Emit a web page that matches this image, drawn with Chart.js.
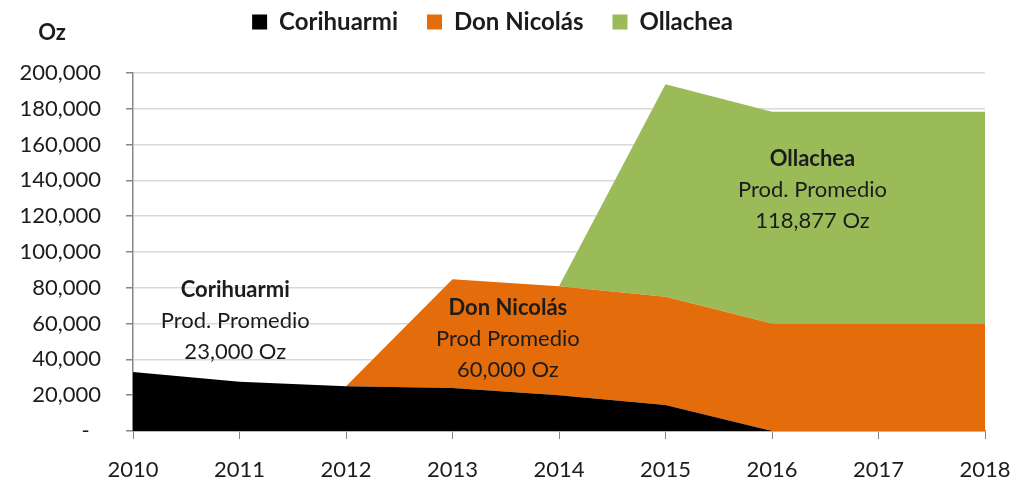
<!DOCTYPE html>
<html>
<head>
<meta charset="utf-8">
<script src="https://cdn.jsdelivr.net/npm/chart.js@4.4.1/dist/chart.umd.min.js"></script>
<style>
  html, body { margin: 0; padding: 0; background: #fff; }
  #wrap { width: 1031px; height: 496px; }
</style>
</head>
<body>
<div id="wrap"><canvas id="c" width="1031" height="496"></canvas></div>
<script>
// valores (onzas)
const ANIOS = ['2010', '2011', '2012', '2013', '2014', '2015', '2016', '2017', '2018'];
const CORIHUARMI = [33000, 27500, 25000, 24000, 20000, 14500, 0, 0, 0];
const DON_NICOLAS = [0, 0, 0, 60800, 60800, 60500, 60000, 60000, 60000];
const OLLACHEA = [0, 0, 0, 0, 0, 118700, 118400, 118400, 118400];
const Y_TICKS = [0, 20000, 40000, 60000, 80000, 100000, 120000, 140000, 160000, 180000, 200000];

// textos dentro del area (x = indice de anio, y = onzas)
const NOTAS = [
  { x: 0.96, y: 78800, lineas: ['Corihuarmi', 'Prod. Promedio', '23,000 Oz'] },
  { x: 3.52, y: 68700, lineas: ['Don Nicolás', 'Prod Promedio', '60,000 Oz'] },
  { x: 6.38, y: 152000, lineas: ['Ollachea', 'Prod. Promedio', '118,877 Oz'] }
];

const FUENTE = 'Lato, "Open Sans", sans-serif';
const TXT = '#1c1c1c';

const notasPlugin = {
  id: 'notas',
  afterDatasetsDraw(chart) {
    const { ctx, scales: { x, y }, chartArea } = chart;
    ctx.save();
    ctx.textAlign = 'center';
    ctx.textBaseline = 'middle';
    ctx.fillStyle = TXT;
    NOTAS.forEach(n => {
      const px = x.getPixelForValue(n.x), py = y.getPixelForValue(n.y);
      n.lineas.forEach((t, i) => {
        ctx.font = (i === 0 ? 'bold ' : '') + '22px ' + FUENTE;
        ctx.fillText(t, px, py + i * 31);
      });
    });
    // titulo del eje
    ctx.font = 'bold 22px ' + FUENTE;
    ctx.fillText('Oz', chartArea.left - 81, chartArea.top - 40);
    ctx.restore();
  }
};

const legendaAltura = {
  id: 'legendaAltura',
  beforeInit(chart) {
    const fit = chart.legend.fit;
    chart.legend.fit = function () { fit.call(this); this.height = 92; };
  }
};

new Chart(document.getElementById('c'), {
  type: 'line',
  data: {
    labels: ANIOS,
    datasets: [
      { label: 'Corihuarmi', data: CORIHUARMI, backgroundColor: '#000000', fill: 'origin' },
      { label: 'Don Nicolás', data: DON_NICOLAS, backgroundColor: '#E46C0A', fill: '-1' },
      { label: 'Ollachea', data: OLLACHEA, backgroundColor: '#9BBB59', fill: '-1' }
    ].map(d => Object.assign(d, { borderWidth: 0, pointRadius: 0, tension: 0, borderColor: d.backgroundColor }))
  },
  options: {
    responsive: false,
    animation: false,
    layout: { padding: { left: 0, right: 46, top: -19, bottom: 0 } },
    plugins: {
      tooltip: { enabled: false },
      legend: {
        position: 'top',
        labels: {
          boxWidth: 15, boxHeight: 15, padding: 29, color: TXT,
          font: { family: FUENTE, size: 24, weight: 'bold' }
        }
      }
    },
    scales: {
      x: {
        offset: false,
        grid: { drawOnChartArea: false, tickLength: 8, tickColor: '#868686' },
        border: { color: '#868686', width: 1.5 },
        ticks: { color: TXT, padding: 18, maxRotation: 0, font: { family: FUENTE, size: 22 } },
        afterFit(s) { s.height = 65; }
      },
      y: {
        stacked: true,
        min: 0, max: 200000,
        afterBuildTicks(s) { s.ticks = Y_TICKS.map(v => ({ value: v })); },
        grid: { color: '#D9D9D9', lineWidth: 1.5, tickLength: 7, tickColor: '#868686' },
        border: { color: '#868686', width: 1.5 },
        ticks: {
          color: TXT, padding: 25, font: { family: FUENTE, size: 22 },
          callback: v => v === 0 ? '-  ' : v.toLocaleString('en-US')
        },
        afterFit(s) { s.width = 133; }
      }
    }
  },
  plugins: [notasPlugin, legendaAltura]
});
</script>
</body>
</html>
